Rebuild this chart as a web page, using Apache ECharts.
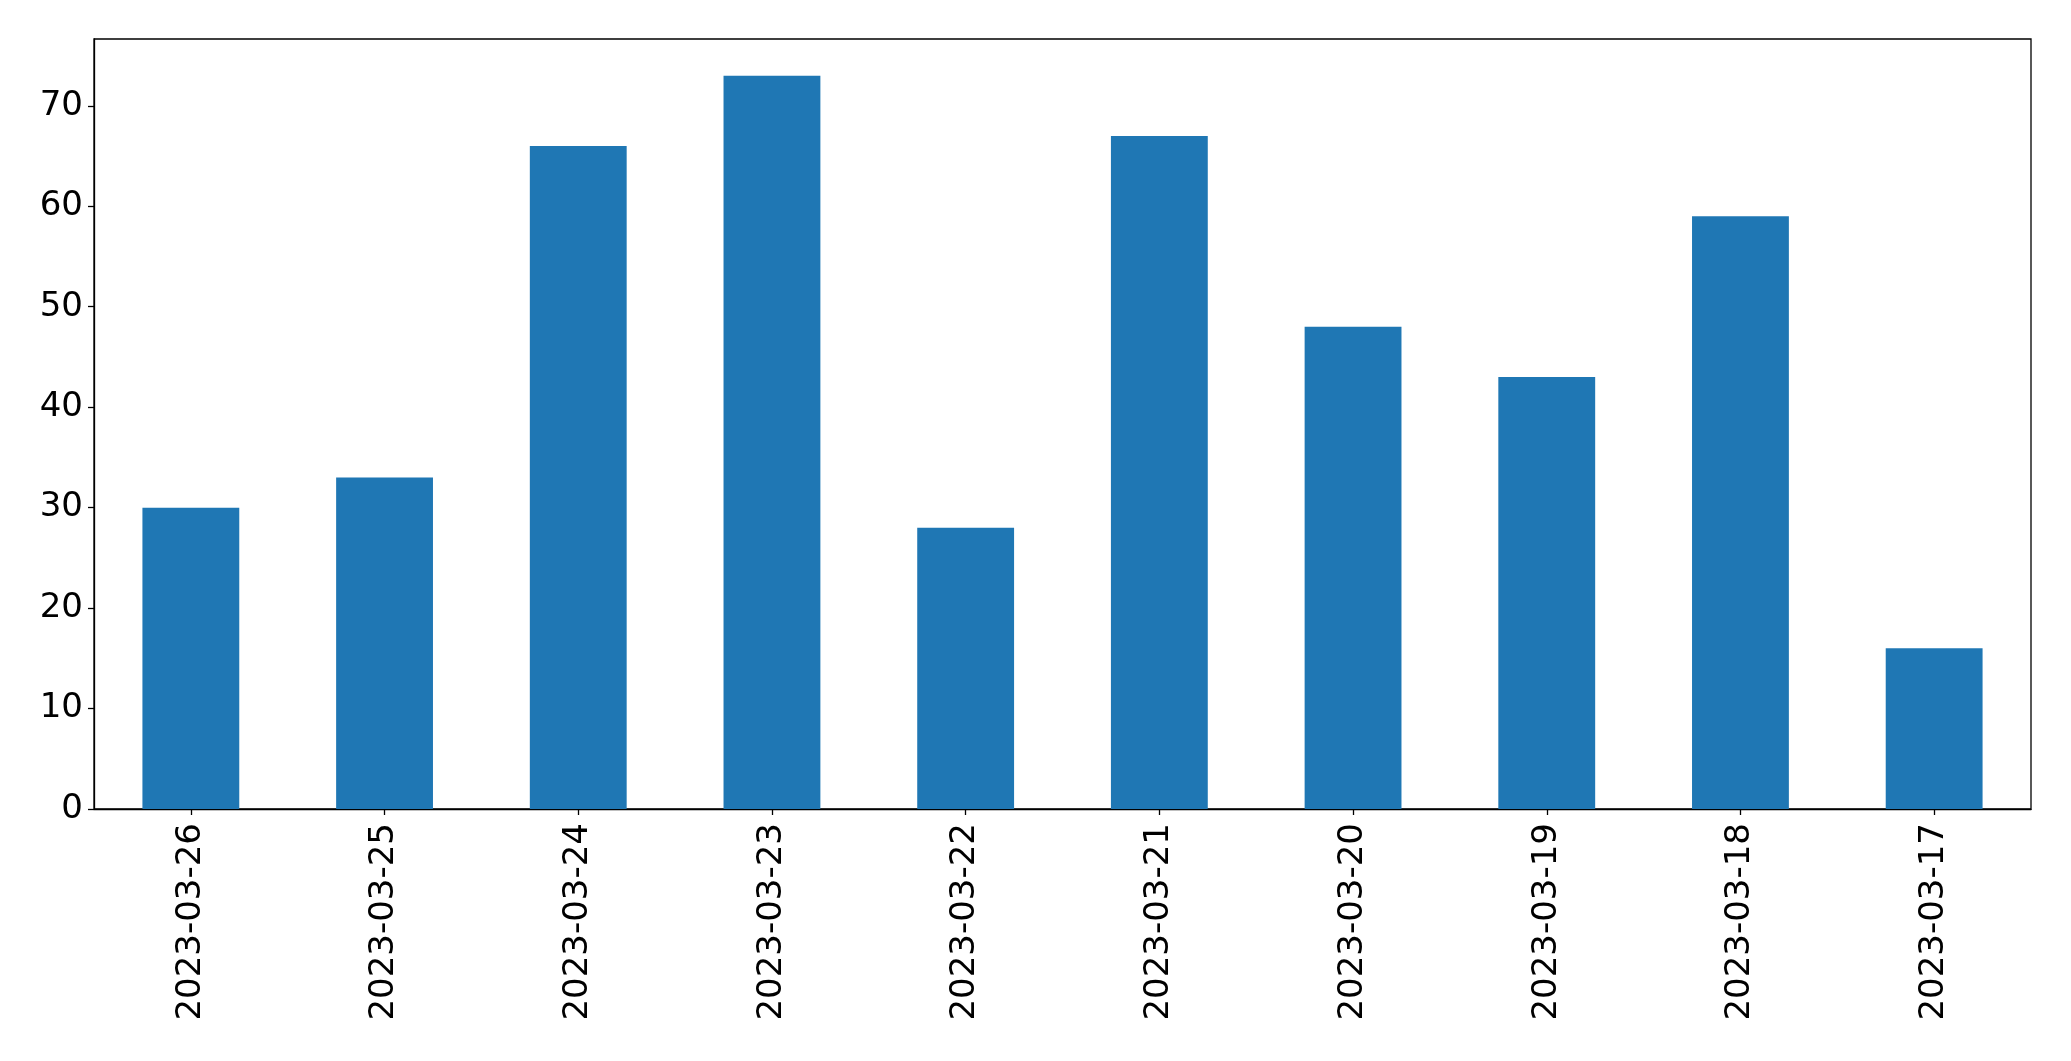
<!DOCTYPE html>
<html>
<head>
<meta charset="utf-8">
<script src="https://cdn.jsdelivr.net/npm/echarts@6/dist/echarts.min.js"></script>
<style>html,body{margin:0;padding:0;background:#fff;}#c{width:2071px;height:1061px;}</style>
</head>
<body>
<div id="c"></div>
<script>
const categories = ['2023-03-26','2023-03-25','2023-03-24','2023-03-23','2023-03-22','2023-03-21','2023-03-20','2023-03-19','2023-03-18','2023-03-17'];
const values = [30, 33, 66, 73, 28, 67, 48, 43, 59, 16];
const yTicks = [0, 10, 20, 30, 40, 50, 60, 70];
const chart = echarts.init(document.getElementById('c'), null, {renderer: 'canvas'});
const font = 'DejaVu Sans';
chart.setOption({
  animation: false,
  grid: {left: 94, right: 40, top: 39, bottom: 252, show: true, borderColor: '#000', borderWidth: 1.3, backgroundColor: 'transparent'},
  xAxis: {
    type: 'category', data: categories,
    axisLine: {show: true, lineStyle: {color: '#000', width: 1.3}},
    axisTick: {show: true, alignWithLabel: true, length: 6, lineStyle: {color: '#000', width: 1.3}},
    axisLabel: {rotate: 90, margin: 14, color: '#000', fontFamily: font, fontSize: 34, interval: 0},
    splitLine: {show: false}
  },
  yAxis: {
    type: 'value', min: 0, max: 76.65, interval: 10,
    axisLine: {show: true, lineStyle: {color: '#000', width: 1.3}},
    axisTick: {show: true, length: 6, lineStyle: {color: '#000', width: 1.3}},
    axisLabel: {margin: 11, color: '#000', fontFamily: font, fontSize: 34,
      formatter: v => yTicks.includes(v) ? String(v) : '', showMaxLabel: false},
    splitLine: {show: false}
  },
  series: [{
    type: 'bar', data: values, barWidth: '50%',
    itemStyle: {color: '#1f77b4'}
  }]
});
</script>
</body>
</html>
